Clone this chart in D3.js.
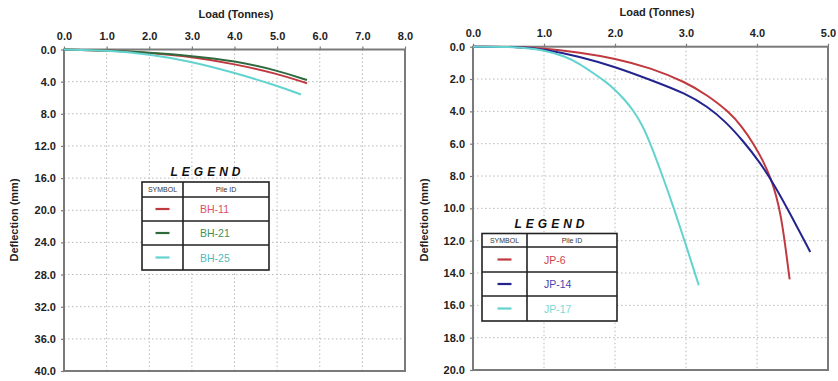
<!DOCTYPE html>
<html>
<head>
<meta charset="utf-8">
<script src="https://cdn.jsdelivr.net/npm/d3@7"></script>
<style>
  body { margin: 0; background: #fff; }
  svg { display: block; font-family: "Liberation Sans", Arial, sans-serif; }
</style>
</head>
<body>
<svg id="chart"></svg>
<script>
// Chart size
const width = 838;
const height = 381;

// Left panel data (BH piles)
const bhIds = ["BH-11", "BH-21", "BH-25"];
const bh11Load = [0, 1.0, 2.0, 3.0, 4.0, 5.0, 5.7];
const bh11Defl = [0, 0.1, 0.4, 0.9, 1.8, 3.0, 4.2];
const bh21Load = [0, 1.0, 2.0, 3.0, 4.0, 5.0, 5.7];
const bh21Defl = [0, 0.1, 0.4, 0.8, 1.4, 2.6, 3.8];
const bh25Load = [0, 1.0, 2.0, 3.0, 4.0, 5.0, 5.56];
const bh25Defl = [0, 0.1, 0.6, 1.5, 2.9, 4.5, 5.6];
const leftXTicks = [0, 1, 2, 3, 4, 5, 6, 7, 8];
const leftYTicks = [0, 4, 8, 12, 16, 20, 24, 28, 32, 36, 40];

// Right panel data (JP piles)
const jpIds = ["JP-6", "JP-14", "JP-17"];
const jp6Load = [0, 0.6, 1.0, 1.5, 2.0, 2.5, 3.0, 3.3, 3.6, 3.8, 3.95, 4.08, 4.2, 4.27, 4.33, 4.39, 4.46];
const jp6Defl = [0, 0, 0.1, 0.35, 0.72, 1.3, 2.2, 3.0, 4.0, 5.0, 6.0, 7.0, 8.2, 9.2, 10.3, 12.0, 14.4];
const jp14Load = [0, 0.6, 1.0, 1.5, 2.0, 2.5, 3.0, 3.3, 3.55, 3.8, 4.05, 4.25, 4.5, 4.75];
const jp14Defl = [0, 0, 0.15, 0.6, 1.24, 2.05, 2.9, 3.7, 4.6, 5.8, 7.2, 8.6, 10.6, 12.7];
const jp17Load = [0, 0.6, 1.0, 1.3, 1.5, 1.7, 1.85, 2.0, 2.13, 2.26, 2.38, 2.5, 2.67, 2.83, 2.98, 3.18];
const jp17Defl = [0, 0, 0.2, 0.6, 1.05, 1.65, 2.1, 2.65, 3.25, 3.95, 4.8, 6.0, 8.0, 10.0, 12.0, 14.76];
const rightXTicks = [0, 1, 2, 3, 4, 5];
const rightYTicks = [0, 2, 4, 6, 8, 10, 12, 14, 16, 18, 20];

// Visual constants
const FRAME_COLOR = '#7a7a7a';
const GRID_COLOR = '#b8b8b8';
const TEXT_COLOR = '#222';
const RED = '#c0393f';
const GREEN = '#2f6a3e';
const CYAN = '#63d3cf';
const BLUE = '#23238f';

const svg = d3.select('#chart')
    .attr('width', width)
    .attr('height', height)
    .attr('viewBox', [0, 0, width, height]);

const zip = (xs, ys) => xs.map((x, i) => ({load: x, defl: ys[i]}));

function drawPanel(opts) {
    const x = d3.scaleLinear().domain(opts.xDomain).range([opts.left, opts.right]);
    const y = d3.scaleLinear().domain(opts.yDomain).range([opts.top, opts.bottom]);
    const g = svg.append('g');

    // grid
    g.append('g').selectAll('line').data(opts.xTicks.slice(1, -1)).join('line')
        .attr('x1', d => x(d)).attr('x2', d => x(d))
        .attr('y1', opts.top).attr('y2', opts.bottom)
        .attr('stroke', GRID_COLOR).attr('stroke-width', 1)
        .attr('stroke-dasharray', '1.5,2.5');
    g.append('g').selectAll('line').data(opts.yTicks.slice(1, -1)).join('line')
        .attr('x1', opts.left).attr('x2', opts.right)
        .attr('y1', d => y(d)).attr('y2', d => y(d))
        .attr('stroke', GRID_COLOR).attr('stroke-width', 1)
        .attr('stroke-dasharray', '1.5,2.5');

    // axes
    const top = g.append('g').attr('transform', `translate(0,${opts.top})`)
        .call(d3.axisTop(x).tickValues(opts.xTicks).tickFormat(d3.format('.1f')).tickSize(3).tickPadding(7));
    const left = g.append('g').attr('transform', `translate(${opts.left},0)`)
        .call(d3.axisLeft(y).tickValues(opts.yTicks).tickFormat(d3.format('.1f')).tickSize(3).tickPadding(5));
    [top, left].forEach(ax => {
        ax.select('.domain').remove();
        ax.selectAll('line').attr('stroke', FRAME_COLOR).attr('stroke-width', 1.2);
        ax.selectAll('text').attr('fill', TEXT_COLOR)
            .attr('font-size', 11).attr('font-weight', 'bold');
    });

    // frame
    g.append('rect')
        .attr('x', opts.left).attr('y', opts.top)
        .attr('width', opts.right - opts.left).attr('height', opts.bottom - opts.top)
        .attr('fill', 'none').attr('stroke', FRAME_COLOR).attr('stroke-width', 2);

    // axis titles
    g.append('text')
        .attr('x', opts.titleX).attr('y', opts.titleY)
        .attr('text-anchor', 'middle').attr('font-size', 11).attr('font-weight', 'bold')
        .attr('fill', TEXT_COLOR).text('Load (Tonnes)');
    g.append('text')
        .attr('transform', `translate(${opts.yTitleX},${opts.yTitleY}) rotate(-90)`)
        .attr('text-anchor', 'middle').attr('font-size', 11).attr('font-weight', 'bold')
        .attr('fill', TEXT_COLOR).text('Deflection (mm)');

    // curves
    const line = d3.line()
        .x(d => x(d.load)).y(d => y(d.defl))
        .curve(d3.curveBasis);
    g.append('g').selectAll('path').data(opts.series).join('path')
        .attr('d', d => line(d.values))
        .attr('fill', 'none')
        .attr('stroke', d => d.color)
        .attr('stroke-width', 2);

    // legend
    const L = opts.legend;
    const lg = g.append('g');
    lg.append('text')
        .attr('x', (L.x0 + L.x1) / 2 + 2).attr('y', L.y0 - 6)
        .attr('text-anchor', 'middle').attr('font-size', 12)
        .attr('font-weight', 'bold').attr('font-style', 'italic')
        .attr('letter-spacing', 4).attr('fill', '#111').text('LEGEND');
    lg.append('rect')
        .attr('x', L.x0).attr('y', L.y0)
        .attr('width', L.x1 - L.x0).attr('height', L.rows[L.rows.length - 1] - L.y0)
        .attr('fill', '#fff').attr('stroke', '#222').attr('stroke-width', 1.6);
    lg.append('line')
        .attr('x1', L.xDiv).attr('x2', L.xDiv)
        .attr('y1', L.y0).attr('y2', L.rows[L.rows.length - 1])
        .attr('stroke', '#222').attr('stroke-width', 1.6);
    lg.selectAll('line.row').data(L.rows.slice(0, -1)).join('line')
        .attr('class', 'row')
        .attr('x1', L.x0).attr('x2', L.x1)
        .attr('y1', d => d).attr('y2', d => d)
        .attr('stroke', '#222').attr('stroke-width', 1.6);
    lg.append('text')
        .attr('x', (L.x0 + L.xDiv) / 2).attr('y', (L.y0 + L.rows[0]) / 2 + 2.5)
        .attr('text-anchor', 'middle').attr('font-size', 7).attr('fill', '#333').text('SYMBOL');
    lg.append('text')
        .attr('x', (L.xDiv + L.x1) / 2).attr('y', (L.y0 + L.rows[0]) / 2 + 2.5)
        .attr('text-anchor', 'middle').attr('font-size', 7).attr('fill', '#333').text('Pile ID');

    opts.series.forEach((s, i) => {
        const cy = (L.rows[i] + L.rows[i + 1]) / 2;
        const cx = (L.x0 + L.xDiv) / 2;
        lg.append('line')
            .attr('x1', cx - 7).attr('x2', cx + 7)
            .attr('y1', cy).attr('y2', cy)
            .attr('stroke', s.color).attr('stroke-width', 2.2);
        lg.append('text')
            .attr('x', L.textX).attr('y', cy + 4)
            .attr('font-size', 10.5).attr('fill', s.textColor).text(s.id);
    });
}

drawPanel({
    left: 64, right: 405, top: 49.5, bottom: 371,
    xDomain: [0, 8], yDomain: [0, 40],
    xTicks: leftXTicks, yTicks: leftYTicks,
    titleX: 236, titleY: 18, yTitleX: 18, yTitleY: 220,
    series: [
        {id: bhIds[0], color: RED, textColor: '#d9506a', values: zip(bh11Load, bh11Defl)},
        {id: bhIds[1], color: GREEN, textColor: '#3f8f5e', values: zip(bh21Load, bh21Defl)},
        {id: bhIds[2], color: CYAN, textColor: '#4fb8c0', values: zip(bh25Load, bh25Defl)}
    ],
    legend: {x0: 142, x1: 269, xDiv: 183, y0: 182, rows: [197, 221, 245, 270], textX: 200}
});

drawPanel({
    left: 473, right: 828, top: 46.7, bottom: 370,
    xDomain: [0, 5], yDomain: [0, 20],
    xTicks: rightXTicks, yTicks: rightYTicks,
    titleX: 657, titleY: 16, yTitleX: 428, yTitleY: 220,
    series: [
        {id: jpIds[0], color: RED, textColor: '#d0404a', values: zip(jp6Load, jp6Defl)},
        {id: jpIds[1], color: BLUE, textColor: '#4545b0', values: zip(jp14Load, jp14Defl)},
        {id: jpIds[2], color: CYAN, textColor: '#7ad8d4', values: zip(jp17Load, jp17Defl)}
    ],
    legend: {x0: 482, x1: 617, xDiv: 527, y0: 233.5, rows: [247, 272, 296, 321], textX: 544}
});
</script>
</body>
</html>
